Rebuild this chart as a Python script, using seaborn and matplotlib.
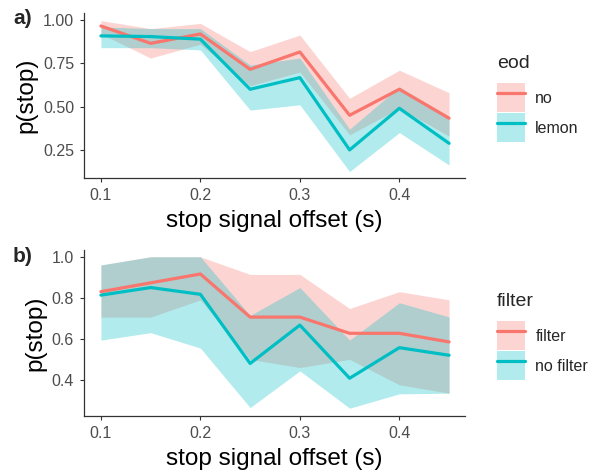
import numpy as np
import pandas as pd
import matplotlib
matplotlib.use("Agg")
import matplotlib.pyplot as plt
from matplotlib.patches import Patch
from matplotlib.lines import Line2D
import seaborn as sns

# ---- data ----
offsets = [0.10, 0.15, 0.20, 0.25, 0.30, 0.35, 0.40, 0.45]

# panel a: eod
eod_levels = ["no", "lemon"]
a_no_mean = [0.965, 0.865, 0.919, 0.715, 0.815, 0.450, 0.600, 0.433]
a_no_lo = [0.92, 0.78, 0.86, 0.62, 0.70, 0.337, 0.49, 0.33]
a_no_hi = [0.996, 0.95, 0.98, 0.817, 0.913, 0.548, 0.71, 0.58]
a_lemon_mean = [0.908, 0.904, 0.889, 0.600, 0.667, 0.250, 0.490, 0.288]
a_lemon_lo = [0.84, 0.84, 0.827, 0.48, 0.51, 0.125, 0.35, 0.163]
a_lemon_hi = [0.96, 0.95, 0.95, 0.74, 0.78, 0.37, 0.614, 0.44]

# panel b: filter
filter_levels = ["filter", "no filter"]
b_filter_mean = [0.830, 0.873, 0.916, 0.706, 0.706, 0.627, 0.627, 0.585]
b_filter_lo = [0.706, 0.706, 0.79, 0.50, 0.46, 0.50, 0.376, 0.335]
b_filter_hi = [0.96, 1.0, 1.0, 0.914, 0.914, 0.748, 0.83, 0.79]
b_nofilter_mean = [0.813, 0.850, 0.817, 0.480, 0.667, 0.408, 0.557, 0.520]
b_nofilter_lo = [0.594, 0.63, 0.555, 0.265, 0.444, 0.262, 0.332, 0.335]
b_nofilter_hi = [0.96, 1.0, 1.0, 0.714, 0.85, 0.594, 0.776, 0.707]

x_ticks = [0.1, 0.2, 0.3, 0.4]
a_yticks = [0.25, 0.50, 0.75, 1.00]
b_yticks = [0.4, 0.6, 0.8, 1.0]

RED = "#F8766D"
CYAN = "#00BFC4"

sns.set_style("white")
plt.rcParams["font.family"] = ["Liberation Sans", "DejaVu Sans"]

fig = plt.figure(figsize=(5.92, 4.70), dpi=100)
W, H = 592, 470
def axrect(l, t, r, b):
    return [l / W, 1 - b / H, (r - l) / W, (b - t) / H]

ax_a = fig.add_axes(axrect(84, 13, 465, 178))
ax_b = fig.add_axes(axrect(84, 250, 465, 416))

def build(ax, levels, means, los, his, yticks, yfmt, ylim, title, leg_top):
    rows = []
    for lev, m in zip(levels, means):
        for x, v in zip(offsets, m):
            rows.append({"offset": x, "p": v, "grp": lev})
    df = pd.DataFrame(rows)
    pal = dict(zip(levels, [RED, CYAN]))
    for lev, lo, hi in zip(levels, los, his):
        ax.fill_between(offsets, lo, hi, color=pal[lev], alpha=0.3, linewidth=0)
    sns.lineplot(data=df, x="offset", y="p", hue="grp", palette=pal,
                 hue_order=levels, ax=ax, linewidth=2.3, legend=False,
                 errorbar=None)
    ax.set_xlim(0.083, 0.466)
    ax.set_ylim(*ylim)
    ax.set_xticks(x_ticks)
    ax.set_xticklabels([f"{t:.1f}" for t in x_ticks])
    ax.set_yticks(yticks)
    ax.set_yticklabels([yfmt.format(t) for t in yticks])
    ax.tick_params(axis="both", which="both", length=3.2, width=0.8,
                   color="#333333", labelcolor="#4d4d4d", labelsize=11.5,
                   direction="out", bottom=True, left=True, pad=4)
    for s in ["top", "right"]:
        ax.spines[s].set_visible(False)
    for s in ["left", "bottom"]:
        ax.spines[s].set_color("#333333")
        ax.spines[s].set_linewidth(0.9)
    ax.set_xlabel("stop signal offset (s)", fontsize=17.5, color="black", labelpad=5)
    ax.set_ylabel("p(stop)", fontsize=17.5, color="black", labelpad=4)
    handles = []
    for lev in levels:
        handles.append((Patch(facecolor=pal[lev], alpha=0.3, edgecolor="none"),
                        Line2D([], [], color=pal[lev], linewidth=2.3)))
    leg = fig.legend(handles, levels, title=title, loc="upper left",
                     bbox_to_anchor=(497 / W, 1 - leg_top / H),
                     bbox_transform=fig.transFigure, frameon=False,
                     fontsize=11.5, title_fontsize=14, handlelength=1.75,
                     handleheight=2.45, labelspacing=0.03, handletextpad=0.65,
                     borderpad=0, borderaxespad=0)
    leg._legend_box.align = "left"
    leg._legend_box.sep = 8

build(ax_a, eod_levels, [a_no_mean, a_lemon_mean], [a_no_lo, a_lemon_lo],
      [a_no_hi, a_lemon_hi], a_yticks, "{:.2f}", (0.088, 1.04), "eod", 55)
build(ax_b, filter_levels, [b_filter_mean, b_nofilter_mean],
      [b_filter_lo, b_nofilter_lo], [b_filter_hi, b_nofilter_hi],
      b_yticks, "{:.1f}", (0.224, 1.033), "filter", 293)

fig.text(13 / W, 1 - 19 / H, "a)", fontsize=15, fontweight="bold", va="center", ha="left")
fig.text(13 / W, 1 - 256 / H, "b)", fontsize=15, fontweight="bold", va="center", ha="left")

fig.savefig("out.png", dpi=100, facecolor="white")
